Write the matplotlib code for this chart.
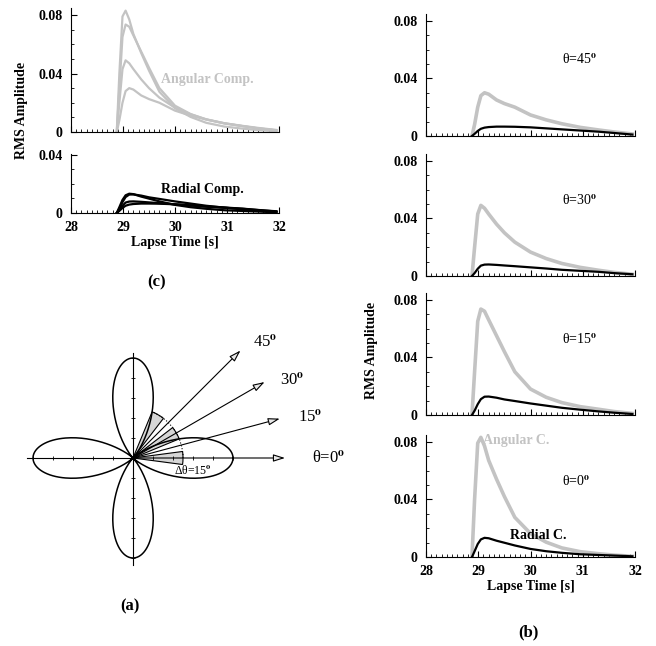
import matplotlib.pyplot as plt
import numpy as np
from matplotlib.patches import Wedge, Arc
from matplotlib.ticker import MultipleLocator

plt.rcParams['font.family'] = ['Liberation Serif', 'DejaVu Serif']
plt.rcParams['font.weight'] = 'bold'
plt.rcParams['axes.labelweight'] = 'bold'
plt.rcParams['mathtext.fontset'] = 'stix'

# lapse time samples [s]
time = [28.88, 28.93, 28.99, 29.05, 29.12, 29.2, 29.35, 29.5, 29.7,
        30.0, 30.3, 30.6, 30.95, 31.3, 31.6, 31.95]

# angular (transverse) component RMS amplitude per direction
ang_0 = [0, 0.040, 0.079, 0.083, 0.077, 0.067, 0.054, 0.042, 0.0275,
         0.0163, 0.0103, 0.0063, 0.0037, 0.0023, 0.0013, 0.0005]
ang_15 = [0, 0.030, 0.065, 0.0735, 0.072, 0.066, 0.055, 0.044, 0.030,
          0.018, 0.0123, 0.0086, 0.0058, 0.0040, 0.0024, 0.0011]
ang_30 = [0, 0.020, 0.043, 0.049, 0.047, 0.043, 0.036, 0.030, 0.0235,
          0.0166, 0.0121, 0.0087, 0.0060, 0.0040, 0.0025, 0.0012]
ang_45 = [0, 0.008, 0.020, 0.028, 0.030, 0.029, 0.025, 0.0225, 0.020,
          0.0146, 0.0112, 0.0085, 0.0060, 0.0042, 0.0028, 0.0014]

# radial component RMS amplitude per direction
rad_0 = [0, 0.004, 0.009, 0.0122, 0.0133, 0.013, 0.0113, 0.0099, 0.008,
         0.0056, 0.0040, 0.0029, 0.0019, 0.0014, 0.0010, 0.0005]
rad_15 = [0, 0.003, 0.0075, 0.011, 0.0127, 0.0128, 0.012, 0.0108, 0.0097,
          0.008, 0.0065, 0.005, 0.0037, 0.0025, 0.0016, 0.0007]
rad_30 = [0, 0.002, 0.005, 0.0072, 0.0079, 0.008, 0.0077, 0.0073, 0.0068,
          0.006, 0.0052, 0.0043, 0.0036, 0.0029, 0.002, 0.0012]
rad_45 = [0, 0.0015, 0.0035, 0.005, 0.0058, 0.0062, 0.0065, 0.0065, 0.0064,
          0.006, 0.0053, 0.0046, 0.0038, 0.003, 0.0021, 0.001]

angles = [45, 30, 15, 0]
angular = [ang_45, ang_30, ang_15, ang_0]
radial = [rad_45, rad_30, rad_15, rad_0]

# schematic (a): arrow directions and shaded window centres
arrow_dirs = [0, 15, 30, 45]
window_dirs = [0, 30, 60]
window_width = 15

GRAY = '#c3c3c3'
W, H = 656, 646
fig = plt.figure(figsize=(W / 100, H / 100), dpi=100)


def px_axes(left, right, top, bottom):
    return fig.add_axes([left / W, 1 - bottom / H, (right - left) / W, (bottom - top) / H])


def style(ax, ymax, yticks, show_x):
    ax.set_xlim(28, 32)
    ax.set_ylim(0, ymax)
    ax.spines['top'].set_visible(False)
    ax.spines['right'].set_visible(False)
    ax.spines['left'].set_linewidth(0.8)
    ax.spines['bottom'].set_linewidth(0.8)
    ax.set_xticks([28, 29, 30, 31, 32])
    ax.xaxis.set_minor_locator(MultipleLocator(0.1))
    ax.set_yticks(yticks)
    ax.set_yticklabels(['0' if v == 0 else f'{v:.2f}' for v in yticks])
    ax.yaxis.set_minor_locator(MultipleLocator(0.01))
    ax.tick_params(direction='in', length=4, width=0.8, labelsize=10, pad=6)
    ax.tick_params(which='minor', direction='in', length=2, width=0.6)
    if not show_x:
        ax.tick_params(axis='x', labelbottom=False)


# ---- (c) all directions superposed ----
axc1 = px_axes(71, 279, 7.7, 132)
for a in angular:
    axc1.plot(time, a, color=GRAY, lw=1.6)
style(axc1, 0.085, [0, 0.04, 0.08], False)
axc1.text(29.73, 0.036, 'Angular Comp.', color=GRAY, fontsize=10, ha='left', va='center')

axc2 = px_axes(71, 279, 153.5, 213)
for r in radial:
    axc2.plot(time, r, color='black', lw=1.6)
style(axc2, 0.041, [0, 0.04], True)
axc2.text(29.73, 0.0165, 'Radial Comp.', color='black', fontsize=10, ha='left', va='center')
axc2.set_xlabel('Lapse Time [s]', fontsize=10, fontweight='bold', labelpad=1)

fig.text(22 / W, 1 - 110 / H, 'RMS Amplitude', rotation=90, ha='center', va='center', fontsize=10)
fig.text(157 / W, 1 - 282 / H, '(c)', ha='center', va='center', fontsize=12)

# ---- (b) one panel per direction ----
zeros = [136, 276, 415, 557]
for i, (ang, a, r, z) in enumerate(zip(angles, angular, radial, zeros)):
    ax = px_axes(426, 635, z - 122.5, z)
    ax.plot(time, a, color=GRAY, lw=2.6)
    ax.plot(time, r, color='black', lw=1.6)
    last = i == len(angles) - 1
    style(ax, 0.085, [0, 0.04, 0.08], last)
    ax.text(0.65, 0.62, r'θ=%d$^{\mathrm{o}}$' % ang, transform=ax.transAxes,
            fontsize=10, fontweight='normal', ha='left', va='center')
    if last:
        ax.set_xlabel('Lapse Time [s]', fontsize=10, fontweight='bold', labelpad=1)
        ax.text(29.1, 0.0805, 'Angular C.', color=GRAY, fontsize=10, va='center')
        ax.text(29.6, 0.0148, 'Radial C.', color='black', fontsize=10, va='center')

fig.text(372 / W, 1 - 350 / H, 'RMS Amplitude', rotation=90, ha='center', va='center', fontsize=10)
fig.text(528 / W, 1 - 632 / H, '(b)', ha='center', va='center', fontsize=12)

# ---- (a) radiation pattern sketch ----
axa = px_axes(20, 340, 330, 590)
axa.set_xlim(-1.13, 2.07)
axa.set_ylim(-1.32, 1.28)
axa.set_aspect('equal')
axa.axis('off')

phi = np.linspace(0, 2 * np.pi, 721)
lobe = np.cos(2 * phi) ** 2
axa.plot(lobe * np.cos(phi), lobe * np.sin(phi), color='black', lw=1.1)

axa.plot([-1.06, 0], [0, 0], color='black', lw=0.8)
axa.plot([0, 0], [-1.07, 1.05], color='black', lw=0.8)
tick_pos = np.arange(-1.0, 1.01, 0.2)
axa.plot(tick_pos, np.zeros_like(tick_pos), ls='none', marker='|', ms=3, mew=0.6, color='black')
axa.plot(np.zeros_like(tick_pos), tick_pos, ls='none', marker='_', ms=3, mew=0.6, color='black')

for d in window_dirs:
    axa.add_patch(Wedge((0, 0), 0.5, d - window_width / 2, d + window_width / 2,
                        facecolor='#d6d6d6', edgecolor='black', lw=0.8))
axa.add_patch(Arc((0, 0), 1.0, 1.0, theta1=0, theta2=67.5, ls=':', lw=0.8, color='black'))

for d in arrow_dirs:
    rad = np.deg2rad(d)
    axa.annotate('', xy=(1.52 * np.cos(rad), 1.52 * np.sin(rad)), xytext=(0, 0),
                 arrowprops=dict(arrowstyle='-|>,head_length=0.7,head_width=0.22',
                                 fc='#e8e8e8', ec='black', lw=0.8, shrinkA=0, shrinkB=0))

label_pos = {0: (1.79, 0.0), 15: (1.65, 0.41), 30: (1.47, 0.78), 45: (1.2, 1.16)}
for d in arrow_dirs:
    txt = (r'θ=%d$^{\mathrm{o}}$' if d == 0 else r'%d$^{\mathrm{o}}$') % d
    x, y = label_pos[d]
    axa.text(x, y, txt, fontsize=12, fontweight='normal', ha='left', va='center')
axa.text(0.6, -0.12, r'Δθ=15$^{\mathrm{o}}$', fontsize=8.5, fontweight='normal',
         ha='center', va='center')

fig.text(130 / W, 1 - 606 / H, '(a)', ha='center', va='center', fontsize=12)

fig.savefig('out.png', dpi=100)
